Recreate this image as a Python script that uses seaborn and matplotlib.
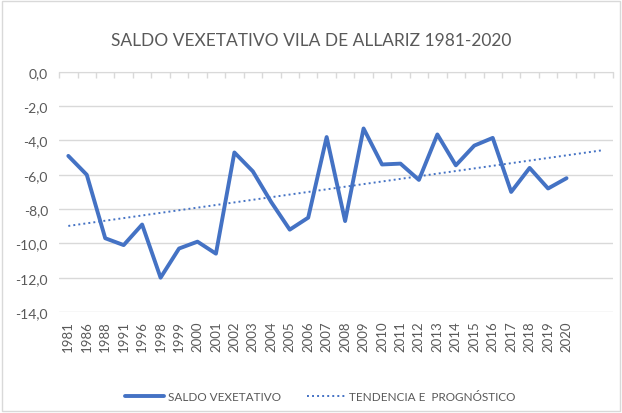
import numpy as np
import pandas as pd
import matplotlib.pyplot as plt
import seaborn as sns

# Data
years = ['1981', '1986', '1988', '1991', '1996', '1998', '1999', '2000', '2001',
         '2002', '2003', '2004', '2005', '2006', '2007', '2008', '2009', '2010',
         '2011', '2012', '2013', '2014', '2015', '2016', '2017', '2018', '2019', '2020']
saldo = [-4.9, -6.0, -9.7, -10.1, -8.9, -12.0, -10.3, -9.9, -10.6,
         -4.7, -5.8, -7.6, -9.2, -8.5, -3.8, -8.7, -3.3, -5.4,
         -5.35, -6.3, -3.65, -5.45, -4.3, -3.85, -7.0, -5.6, -6.8, -6.2]
forecast_periods = 2

sns.set_style("white")
plt.rcParams['font.family'] = ['Lato', 'DejaVu Sans']

blue = '#4472C4'
grey_txt = '#595959'

df = pd.DataFrame({'pos': np.arange(len(years)), 'saldo': saldo})

# linear trend with 2 periods forward forecast
coef = np.polyfit(df['pos'], df['saldo'], 1)
trend_x = np.arange(len(years) + forecast_periods)
trend = pd.DataFrame({'pos': trend_x, 'val': np.polyval(coef, trend_x)})

fig = plt.figure(figsize=(6.22, 4.14), dpi=100)
ax = fig.add_axes([0.095, 0.244, 0.89, 0.58])

sns.lineplot(data=df, x='pos', y='saldo', ax=ax, color=blue, linewidth=2.8,
             label='SALDO VEXETATIVO')
sns.lineplot(data=trend, x='pos', y='val', ax=ax, color=blue, linewidth=1.4,
             linestyle=(0, (1, 1.6)), label='TENDENCIA E  PROGNÓSTICO')

n_cat = len(years) + forecast_periods
ax.set_xlim(-0.5, n_cat - 0.5)
ax.set_ylim(-14, 0)
ax.set_yticks(np.arange(-14, 0.1, 2))
ax.set_yticklabels([f"{v:.1f}".replace('.', ',') for v in np.arange(-14, 0.1, 2)],
                   color=grey_txt, fontsize=10)
ax.set_xticks(np.arange(len(years)))
ax.set_xticklabels(years, rotation=90, color=grey_txt, fontsize=9.5)
ax.set_xticks(np.arange(-0.5, n_cat, 1), minor=True)
ax.tick_params(axis='x', which='major', length=0, pad=6)
ax.tick_params(axis='x', which='minor', top=True, bottom=False, direction='in',
               length=4, color='#d9d9d9', width=1)
ax.tick_params(axis='y', length=0, pad=8)
ax.yaxis.grid(True, color='#d9d9d9', linewidth=1)
ax.set_axisbelow(True)
for s in ['left', 'right', 'bottom']:
    ax.spines[s].set_visible(False)
ax.spines['top'].set_color('#d9d9d9')
ax.set_xlabel('')
ax.set_ylabel('')

fig.suptitle('SALDO VEXETATIVO VILA DE ALLARIZ 1981-2020', y=0.92, fontsize=12.5,
             color=grey_txt)

leg = ax.legend(loc='center', ncol=2, frameon=False, fontsize=8.5,
                handlelength=3.3, handletextpad=0.3, columnspacing=2.2)
for t in leg.get_texts():
    t.set_color(grey_txt)
leg.set_bbox_to_anchor((0.515, 0.04), transform=fig.transFigure)

fig.patches.append(plt.Rectangle((0.004, 0.004), 0.992, 0.992, transform=fig.transFigure,
                                 fill=False, edgecolor='#d9d9d9', linewidth=1))

plt.savefig('out.png', dpi=100)
